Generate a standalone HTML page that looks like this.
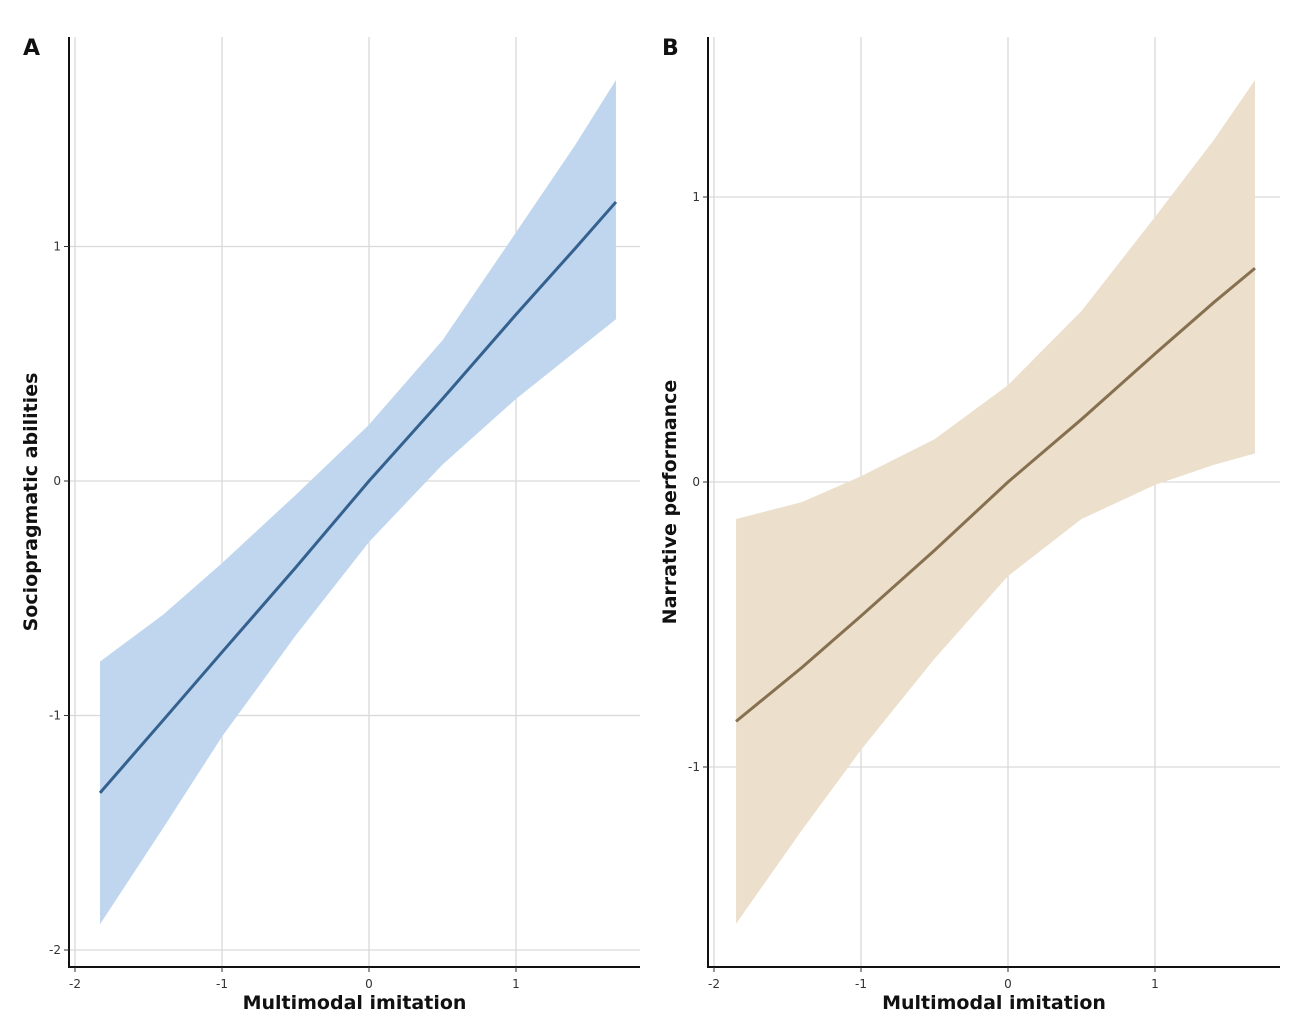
<!DOCTYPE html>
<html><head><meta charset="utf-8"><style>
body{margin:0;background:#fff;}
svg{display:block;font-family:"DejaVu Sans","Liberation Sans",sans-serif;}
.tick{font-size:12px;fill:#333;}
.title{font-size:19px;font-weight:bold;fill:#111;}
.grid{stroke:#d9d9d9;stroke-width:1.3;}
</style></head><body>
<svg id="chart" width="1290" height="1025"></svg>
<script>
// Panel A data
const aX = [-1.83, -1.4, -1, -0.5, 0, 0.5, 1, 1.4, 1.68];
const aFit = [-1.33, -1.02, -0.73, -0.37, 0.0, 0.35, 0.71, 0.99, 1.19];
const aUpper = [-0.77, -0.57, -0.35, -0.06, 0.24, 0.6, 1.06, 1.43, 1.71];
const aLower = [-1.89, -1.48, -1.09, -0.66, -0.26, 0.07, 0.35, 0.55, 0.69];
const aXTicks = [-2, -1, 0, 1];
const aYTicks = [-2, -1, 0, 1];
// Panel B data
const bX = [-1.85, -1.4, -1, -0.5, 0, 0.5, 1, 1.4, 1.68];
const bFit = [-0.84, -0.65, -0.47, -0.24, 0.0, 0.22, 0.45, 0.63, 0.75];
const bUpper = [-0.13, -0.07, 0.02, 0.15, 0.34, 0.6, 0.93, 1.2, 1.41];
const bLower = [-1.55, -1.22, -0.94, -0.62, -0.33, -0.13, -0.01, 0.06, 0.1];
const bXTicks = [-2, -1, 0, 1];
const bYTicks = [-1, 0, 1];

const NS = "http://www.w3.org/2000/svg";
const svg = document.getElementById('chart');
function mk(tag, attrs, parent){const e=document.createElementNS(NS,tag);for(const k in attrs)e.setAttribute(k,attrs[k]);(parent||svg).appendChild(e);return e;}

function panel(o){
  const g = mk('g',{});
  
  
  const sx = v => o.x0px + (v - o.x0v) * o.xs;
  const sy = v => o.y0px - (v - o.y0v) * o.ys;
  o.xTicks.forEach(t=>{
    const l=mk('line',{x1:sx(t),x2:sx(t),y1:o.top,y2:o.bottom,class:'grid'},g);
    
    
  });
  o.yTicks.forEach(t=>{
    const l=mk('line',{x1:o.left,x2:o.right,y1:sy(t),y2:sy(t),class:'grid'},g);
    
    
  });
  let d='';
  o.xs_.forEach((x,i)=>{d+=(i?'L':'M')+sx(x)+','+sy(o.upper[i]);});
  for(let i=o.xs_.length-1;i>=0;i--) d+='L'+sx(o.xs_[i])+','+sy(o.lower[i]);
  const band=mk('path',{d:d+'Z',fill:o.bandColor,stroke:'none'},g);
  
  
  let ld='';
  o.xs_.forEach((x,i)=>{ld+=(i?'L':'M')+sx(x)+','+sy(o.fit[i]);});
  const line=mk('path',{d:ld,fill:'none',stroke:o.lineColor,'stroke-width':3},g);
  
  
  const ax=mk('path',{d:`M${o.left},${o.top}L${o.left},${o.bottom}L${o.right},${o.bottom}`,fill:'none',stroke:'#111','stroke-width':2},g);
  
  
  o.xTicks.forEach(t=>{
    mk('line',{x1:sx(t),x2:sx(t),y1:o.bottom,y2:o.bottom+5,stroke:'#333'},g);
    const tx=mk('text',{x:sx(t),y:o.bottom+21,'text-anchor':'middle',class:'tick'},g);
    tx.textContent=t;
    
    
  });
  o.yTicks.forEach(t=>{
    mk('line',{x1:o.left-5,x2:o.left,y1:sy(t),y2:sy(t),stroke:'#333'},g);
    const tx=mk('text',{x:o.left-8,y:sy(t)+4,'text-anchor':'end',class:'tick'},g);
    tx.textContent=t;
    
    
  });
  const xt=mk('text',{x:(o.left+o.right)/2,y:1009,'text-anchor':'middle',class:'title'},g);
  xt.textContent='Multimodal imitation';
  
  
  const yc=502;
  const yt=mk('text',{x:o.left-32,y:yc,'text-anchor':'middle',class:'title',transform:`rotate(-90 ${o.left-32} ${yc})`},g);
  yt.textContent=o.ytitle;
  
  
  const lt=mk('text',{x:o.left-46,y:55,class:'title'},g);
  lt.style.fontSize='22px';
  lt.textContent=o.letter;
  
  
}
panel({name:'panel-a',letter:'A',ytitle:'Sociopragmatic abilities',left:69,right:640,top:37,bottom:967,
  x0px:369,x0v:0,xs:147,y0px:481,y0v:0,ys:234.5,xTicks:aXTicks,yTicks:aYTicks,
  xs_:aX,fit:aFit,upper:aUpper,lower:aLower,bandColor:'#bfd6ee',lineColor:'#35618f'});
panel({name:'panel-b',letter:'B',ytitle:'Narrative performance',left:708,right:1280,top:37,bottom:967,
  x0px:1008,x0v:0,xs:147,y0px:482,y0v:0,ys:285,xTicks:bXTicks,yTicks:bYTicks,
  xs_:bX,fit:bFit,upper:bUpper,lower:bLower,bandColor:'#ecdfcc',lineColor:'#86704f'});
</script>
</body></html>
